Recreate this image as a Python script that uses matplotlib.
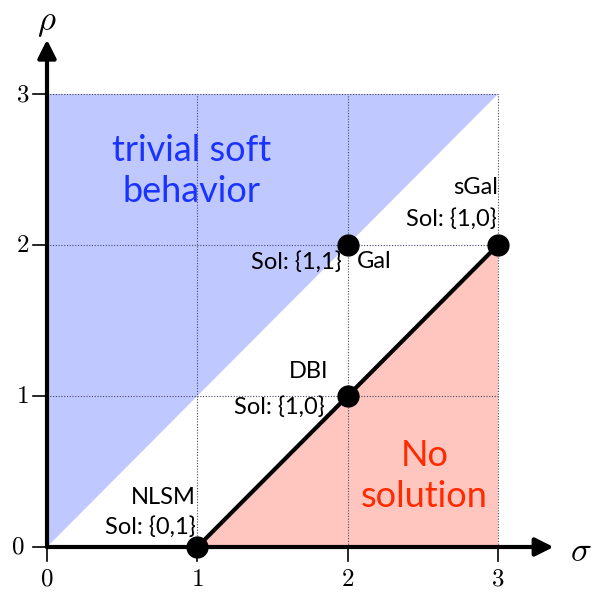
import matplotlib.pyplot as plt

plt.rcParams['mathtext.fontset'] = 'cm'

# theory points (sigma, rho)
theories = ["NLSM", "DBI", "Gal", "sGal"]
sigma = [1, 2, 2, 3]
rho = [0, 1, 2, 2]
sols = ["Sol: {0,1}", "Sol: {1,0}", "Sol: {1,1}", "Sol: {1,0}"]

ticks = [0, 1, 2, 3]
tick_labels = ["0", "1", "2", "3"]

# regions
blue_x = [0, 0, 3]
blue_y = [0, 3, 3]
red_x = [1, 3, 3]
red_y = [0, 0, 2]
line_x = [1, 3]
line_y = [0, 2]

fig = plt.figure(figsize=(5.97, 5.99), dpi=100)
ax = fig.add_axes([0, 0, 1, 1])
ax.set_xlim(-47 / 150.33, (597 - 47) / 150.33)
ax.set_ylim(-(599 - 547) / 151.0, 547 / 151.0)
ax.axis('off')

ax.fill(blue_x, blue_y, color='#c0c9ff', lw=0, zorder=1)
ax.fill(red_x, red_y, color='#ffc6bf', lw=0, zorder=1)

# dotted grid
for t in ticks[1:]:
    ax.plot([t, t], [0, 3], ls=(0, (1, 1.5)), lw=0.8, color='#444466', zorder=2)
    ax.plot([0, 3], [t, t], ls=(0, (1, 1.5)), lw=0.8, color='#444466', zorder=2)

# axes with arrows
ax.annotate('', xy=(3.37, 0), xytext=(0, 0),
            arrowprops=dict(arrowstyle='-|>,head_length=1.1,head_width=0.55', lw=3, color='black',
                            shrinkA=0, shrinkB=0), zorder=5)
ax.annotate('', xy=(0, 3.36), xytext=(0, 0),
            arrowprops=dict(arrowstyle='-|>,head_length=1.1,head_width=0.55', lw=3, color='black',
                            shrinkA=0, shrinkB=0), zorder=5)

# tick marks and labels
for t, lab in zip(ticks, tick_labels):
    ax.plot([t, t], [0, -0.09], color='black', lw=1.2, zorder=5)
    ax.plot([0, -0.09], [t, t], color='black', lw=1.2, zorder=5)
    ax.text(t, -0.13, '$' + lab + '$', ha='center', va='top', fontsize=18)
    if t > 0:
        ax.text(-0.12, t, '$' + lab + '$', ha='right', va='center', fontsize=18)
ax.text(-0.15, 0, '$0$', ha='right', va='center', fontsize=18)

ax.text(0.0, 3.48, r'$\rho$', ha='center', va='center', fontsize=25)
ax.text(3.48, -0.03, r'$\sigma$', ha='left', va='center', fontsize=25)

ax.plot(line_x, line_y, color='black', lw=3, solid_capstyle='round', zorder=6)
ax.plot(sigma, rho, 'o', color='black', ms=15, zorder=7)

lab_font = 'Lato'
fs = 17
# NLSM
ax.text(0.99, 0.33, theories[0], ha='right', va='center', fontsize=fs, family=lab_font)
ax.text(0.99, 0.13, sols[0], ha='right', va='center', fontsize=fs, family=lab_font)
# DBI
ax.text(1.87, 1.16, theories[1], ha='right', va='center', fontsize=fs, family=lab_font)
ax.text(1.85, 0.93, sols[1], ha='right', va='center', fontsize=fs, family=lab_font)
# Gal
ax.text(2.06, 1.89, theories[2], ha='left', va='center', fontsize=fs, family=lab_font)
ax.text(1.96, 1.89, sols[2], ha='right', va='center', fontsize=fs, family=lab_font)
# sGal
ax.text(3.0, 2.38, theories[3], ha='right', va='center', fontsize=fs, family=lab_font)
ax.text(2.99, 2.17, sols[3], ha='right', va='center', fontsize=fs, family=lab_font)

ax.text(0.96, 2.49, 'trivial soft\nbehavior', ha='center', va='center', fontsize=26,
        family=lab_font, color='#1a33ff', linespacing=1.3)
ax.text(2.51, 0.47, 'No\nsolution', ha='center', va='center', fontsize=26,
        family=lab_font, color='#ff2a00', linespacing=1.3)

fig.savefig('out.png', dpi=100)
